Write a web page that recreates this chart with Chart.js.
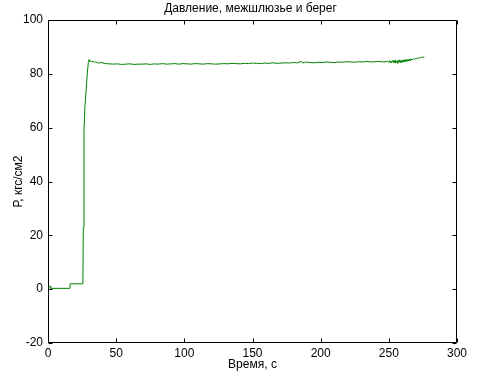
<!DOCTYPE html>
<html>
<head>
<meta charset="utf-8">
<script src="https://cdn.jsdelivr.net/npm/chart.js@4/dist/chart.umd.min.js"></script>
<style>
html,body{margin:0;padding:0;background:#fff;}
#wrap{width:487px;height:384px;}
</style>
</head>
<body>
<div id="wrap"><canvas id="c" width="487" height="384"></canvas></div>
<script>
const chartTitle = 'Давление, межшлюзье и берег';
const xTitle = 'Время, с';
const yTitle = 'Р, кгс/см2';
const xTicks = [0, 50, 100, 150, 200, 250, 300];
const yTicks = [-20, 0, 20, 40, 60, 80, 100];

const times = [
  0, 0.3, 1.5, 2, 16, 16.3, 25.4, 25.6, 25.9, 26.4, 27.1, 28.0, 28.8, 29.6, 30.0, 30.5, 31, 32, 33, 34, 35, 37, 39, 42,
  45, 48, 51, 54, 57, 60, 63, 66, 69, 72, 75, 78, 81, 84, 87, 90, 93, 96, 99, 102, 105, 108, 111, 114, 117, 120,
  123, 126, 129, 132, 135, 138, 141, 144, 147, 150, 153, 156, 159, 162, 165, 168, 171, 174, 177, 180, 183, 186, 187,
  189, 192, 195, 198, 201, 204, 207, 210, 213, 216, 219, 222, 225, 228, 231, 234, 237, 240, 243, 246, 249,
  250, 250.5, 251, 251.5, 252, 253, 253.5, 254, 254.5, 255, 255.5, 256, 256.5, 257, 257.5, 258, 258.5, 259, 259.5,
  260, 260.5, 261, 261.5, 262, 262.5, 263, 263.5, 264, 264.5, 265, 265.5, 266, 267, 268, 269, 270, 271, 272, 273,
  274, 275, 276
];
const pressure = [
  -12, 1.1, 1.1, 0.3, 0.3, 2.0, 2.0, 2.5, 23, 59, 68, 74, 80, 84.3, 85.3, 84.6, 85.0, 84.4, 84.7, 84.2, 84.5, 84.0, 84.2, 83.8,
  83.7, 83.6, 83.7, 83.5, 83.6, 83.7, 83.5, 83.6, 83.6, 83.7, 83.5, 83.7, 83.6, 83.8, 83.6, 83.7, 83.8, 83.6, 83.8, 83.7, 83.6, 83.8, 83.7, 83.6, 83.8, 83.7,
  83.6, 83.7, 83.8, 83.7, 83.9, 83.8, 83.7, 83.9, 83.8, 84.0, 83.9, 83.8, 84.0, 83.9, 84.1, 83.9, 84.0, 84.1, 84.0, 84.2, 84.1, 84.6, 84.0,
  84.4, 84.2, 84.1, 84.3, 84.2, 84.4, 84.3, 84.2, 84.4, 84.3, 84.5, 84.4, 84.3, 84.5, 84.4, 84.6, 84.4, 84.5, 84.6, 84.4, 84.6,
  84.2, 84.9, 84.3, 84.8, 84.1, 85.0, 84.2, 84.9, 84.0, 85.1, 84.3, 84.8, 83.9, 85.0, 84.4, 85.2, 84.1, 84.9, 84.3,
  85.1, 84.4, 85.2, 84.5, 85.3, 84.6, 85.2, 84.7, 85.4, 84.8, 85.3, 84.9, 85.5, 85.2, 85.6, 85.4, 85.8, 85.6, 86.0, 85.9,
  86.2, 86.1, 86.3
];

const points = times.map((t, i) => ({x: t, y: pressure[i]}));
const FONT = {family: '"Liberation Sans", Arial, sans-serif', size: 12};

const boxPlugin = {
  id: 'matlabBox',
  afterDatasetsDraw(chart) {
    const {ctx, chartArea: a, scales} = chart;
    ctx.save();
    ctx.strokeStyle = '#000';
    ctx.lineWidth = 1;
    const L = Math.round(a.left) + 0.5, R = Math.round(a.right) - 0.5;
    const T = Math.round(a.top) + 0.5, B = Math.round(a.bottom) - 0.5;
    ctx.beginPath();
    ctx.rect(L, T, R - L, B - T);
    const tl = 4;
    xTicks.forEach(v => {
      const px = Math.round(scales.x.getPixelForValue(v)) + 0.5;
      ctx.moveTo(px, B); ctx.lineTo(px, B - tl);
      ctx.moveTo(px, T); ctx.lineTo(px, T + tl);
    });
    yTicks.forEach(v => {
      const py = Math.round(scales.y.getPixelForValue(v)) + 0.5;
      ctx.moveTo(L, py); ctx.lineTo(L + tl, py);
      ctx.moveTo(R, py); ctx.lineTo(R - tl, py);
    });
    ctx.stroke();
    // title centred over the plot area
    ctx.fillStyle = '#000';
    ctx.font = '12px "Liberation Sans", Arial, sans-serif';
    ctx.textAlign = 'center';
    ctx.textBaseline = 'middle';
    ctx.fillText(chartTitle, (a.left + a.right) / 2 - 2, 9);
    ctx.restore();
  }
};

new Chart(document.getElementById('c'), {
  type: 'scatter',
  data: {
    datasets: [{
      data: points,
      showLine: true,
      borderColor: 'rgb(0,128,0)',
      borderWidth: 1,
      pointRadius: 0,
      tension: 0,
      fill: false
    }]
  },
  options: {
    responsive: false,
    animation: false,
    devicePixelRatio: 1,
    layout: {padding: {left: 0, right: 30, top: 20, bottom: 0}},
    plugins: {
      legend: {display: false},
      tooltip: {enabled: false},
      title: {display: false}
    },
    scales: {
      x: {
        type: 'linear',
        position: 'bottom',
        min: 0, max: 300,
        afterBuildTicks: s => { s.ticks = xTicks.map(v => ({value: v})); },
        afterFit: s => { s.height = 41; },
        grid: {display: false, drawTicks: false},
        border: {display: false},
        ticks: {color: '#000', font: FONT, padding: 3, maxRotation: 0},
        title: {display: true, text: xTitle, color: '#000', font: FONT, padding: {top: 0, bottom: 12}}
      },
      y: {
        type: 'linear',
        position: 'left',
        min: -20, max: 100,
        afterBuildTicks: s => { s.ticks = yTicks.map(v => ({value: v})); },
        afterFit: s => { s.width = 48; },
        grid: {display: false, drawTicks: false},
        border: {display: false},
        ticks: {color: '#000', font: FONT, padding: 5},
        title: {display: true, text: yTitle, color: '#000', font: FONT, padding: {top: 11, bottom: 0}}
      }
    }
  },
  plugins: [boxPlugin]
});
</script>
</body>
</html>
